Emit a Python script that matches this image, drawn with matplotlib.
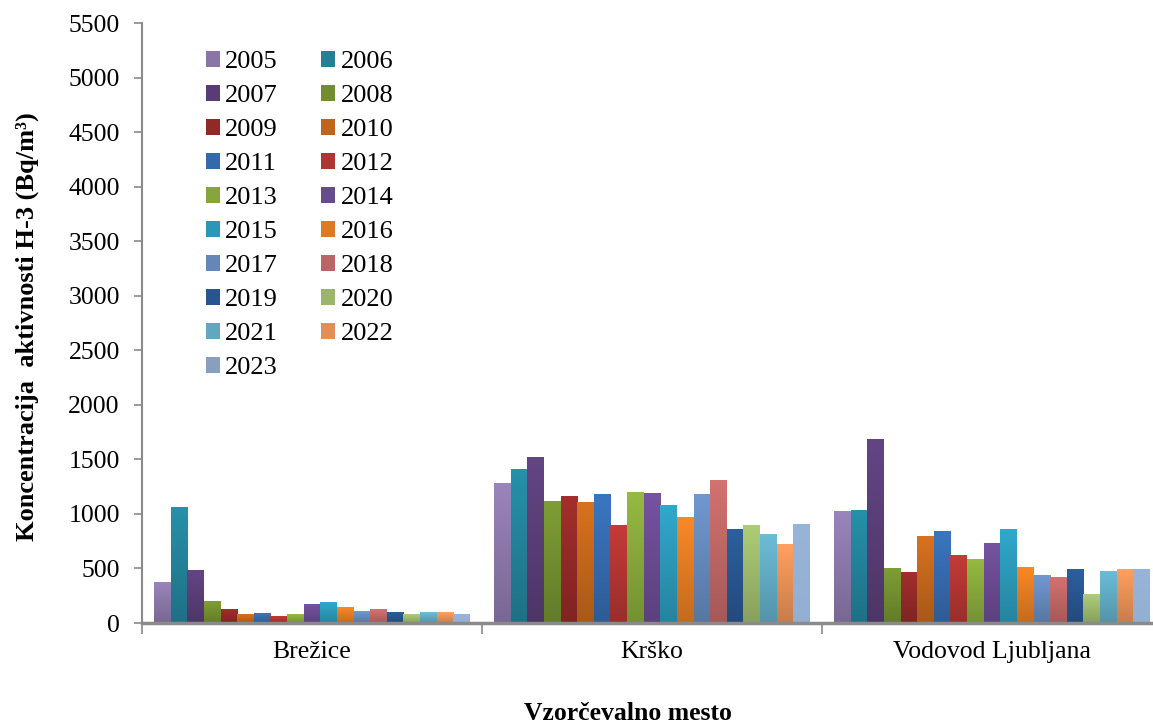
import numpy as np
import matplotlib
matplotlib.use("Agg")
import matplotlib.pyplot as plt
from matplotlib.patches import Patch
from matplotlib.colors import to_rgb

categories = ["Brežice", "Krško", "Vodovod Ljubljana"]
years = [str(y) for y in range(2005, 2024)]

values_brezice = [380, 1060, 490, 200, 130, 80, 90, 65, 80, 175, 190, 145, 110, 125, 105, 80, 100, 100, 80]
values_krsko = [1280, 1410, 1525, 1120, 1160, 1110, 1180, 900, 1205, 1195, 1085, 975, 1180, 1315, 865, 900, 820, 720, 910]
values_vodovod = [1030, 1040, 1690, 505, 470, 800, 845, 625, 590, 735, 865, 515, 440, 425, 495, 265, 480, 495, 495]

colors_top = ["#9A85BC", "#2790AA", "#634584", "#7F9E35", "#A32E2C", "#D8721E",
              "#3A76C0", "#C43B37", "#96BA42", "#7553A1", "#30A9CC", "#FA8926",
              "#7098D0", "#D47270", "#2D5F9E", "#AECD78", "#6CBDD8", "#FFA060",
              "#98B4D8"]

yticks = list(range(0, 5501, 500))

plt.rcParams['font.family'] = ['Liberation Serif', 'DejaVu Serif']

W, H = 1153, 724
fig = plt.figure(figsize=(W / 100, H / 100), dpi=100)
ax = fig.add_axes([142 / W, (H - 623) / H, 1020 / W, 600 / H])

data = np.array([values_brezice, values_krsko, values_vodovod])  # cats x years
n_series = len(years)
gap = 24 / 340
bar_w = (1.0 - gap) / n_series

ax.set_xlim(0, len(categories))
ax.set_ylim(0, 5500)

for s in range(n_series):
    x = np.arange(len(categories)) + gap / 2 + s * bar_w
    top = np.array(to_rgb(colors_top[s]))
    bot = top * 0.78 if s < n_series - 1 else top * 0.97
    bars = ax.bar(x, data[:, s], width=bar_w, align='edge', color=colors_top[s],
                  edgecolor='none', linewidth=0, zorder=2)
    grad = np.linspace(0, 1, 64)[:, None]
    img = bot[None, None, :] * (1 - grad[:, :, None]) + top[None, None, :] * grad[:, :, None]
    for b in bars:
        h = b.get_height()
        x0 = b.get_x()
        im = ax.imshow(img, extent=(x0, x0 + bar_w, 0, h), origin='lower',
                       aspect='auto', zorder=3, interpolation='bilinear')
        im.set_clip_path(b)

ax.set_xlim(0, len(categories))
ax.set_ylim(0, 5500)

ax.set_yticks(yticks)
ax.set_yticklabels([str(v) for v in yticks], fontsize=18.5)
ax.set_xticks(np.arange(len(categories) + 1))
ax.set_xticklabels([])
ax.set_xticks(np.arange(len(categories)) + 0.5, minor=True)
ax.set_xticklabels(categories, minor=True, fontsize=18.5)
ax.tick_params(axis='x', which='minor', length=0, pad=13)
ax.tick_params(axis='x', which='major', length=8, width=1.2, color='#8a8a8a', direction='out')
ax.tick_params(axis='y', length=6, width=1.2, color='#8a8a8a', direction='out', pad=10)

for sp in ['top', 'right']:
    ax.spines[sp].set_visible(False)
ax.spines['left'].set_color('#8a8a8a')
ax.spines['left'].set_linewidth(1.5)
ax.spines['bottom'].set_color('#8a8a8a')
ax.spines['bottom'].set_linewidth(2.5)
ax.spines['bottom'].set_zorder(5)

fig.text(27 / W, 1 - 327 / H, "Koncentracija  aktivnosti H-3 (Bq/m³)", rotation=90,
         ha='center', va='center', fontsize=19, fontweight='bold')
fig.text(628 / W, 1 - 713 / H, "Vzorčevalno mesto", ha='center', va='center',
         fontsize=18.5, fontweight='bold')

# legend filled row-wise: column 1 = 2005, 2007, ..., column 2 = 2006, 2008, ...
order = list(range(0, n_series, 2)) + list(range(1, n_series, 2))
handles = [Patch(facecolor=tuple(np.array(to_rgb(colors_top[i])) * 0.89), edgecolor='none') for i in order]
labels = [years[i] for i in order]
leg = fig.legend(handles, labels, loc='upper left', ncol=2, frameon=False,
                 bbox_to_anchor=(206 / W, 1 - 51 / H), fontsize=19,
                 handlelength=0.53, handleheight=0.53, handletextpad=0.2,
                 labelspacing=0.45, columnspacing=1.63, borderpad=0, borderaxespad=0)

fig.savefig("out.png", dpi=100)
